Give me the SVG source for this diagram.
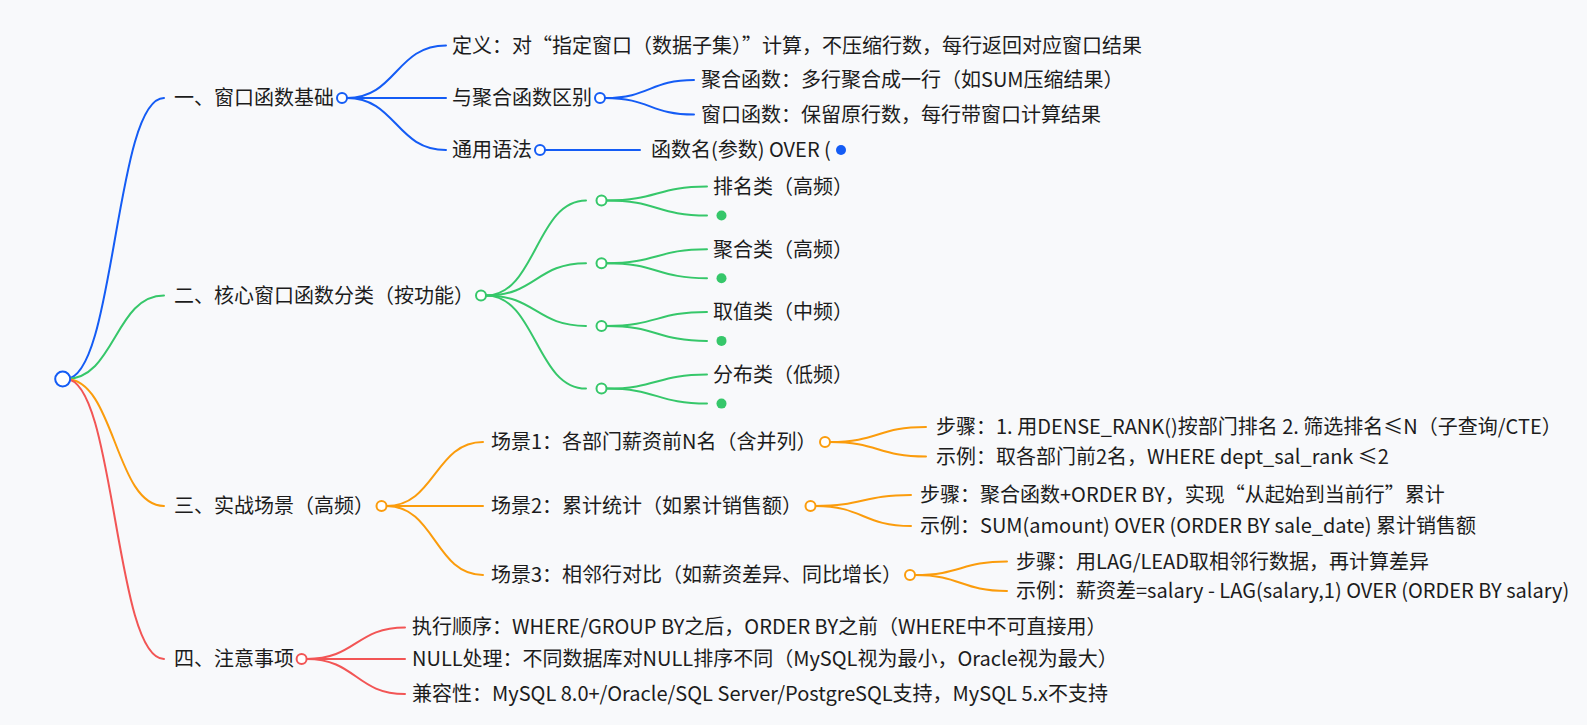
<svg xmlns="http://www.w3.org/2000/svg" width="1587" height="725" viewBox="0 0 1587 725">
<style>
text{font-family:"Noto Sans CJK SC","Noto Sans",sans-serif;font-size:20px;fill:#1c1c1c;}
.l{fill:none;stroke-width:2;stroke-linecap:round;}
.b{stroke:#145cf5;}
.g{stroke:#36c76a;}
.o{stroke:#fb9c0c;}
.r{stroke:#f25555;}
.c{fill:#fff;stroke-width:2;}
.cb{stroke:#145cf5;}
.cg{stroke:#36c76a;}
.co{stroke:#fb9c0c;}
.cr{stroke:#f25555;}
</style>
<rect width="1587" height="725" fill="#f8f9fb"/>
<g id="connectors">
<path class="l b" d="M66,379 C115,379 115,98 164,98"/>
<path class="l g" d="M66,379 C115,379 115,295.5 164,295.5"/>
<path class="l o" d="M66,379 C115,379 115,506 164,506"/>
<path class="l r" d="M66,379 C115,379 115,659 164,659"/>
<path class="l b" d="M347,98 C396,98 396,45.5 446,45.5"/>
<path class="l b" d="M347,98 L446,98"/>
<path class="l b" d="M347,98 C396,98 396,150 446,150"/>
<path class="l b" d="M605,98 C650,98 650,80 694,80"/>
<path class="l b" d="M605,98 C650,98 650,114.5 694,114.5"/>
<path class="l b" d="M545,150 L640,150"/>
<path class="l g" d="M486,295.5 C536,295.5 536,200.5 586,200.5"/>
<path class="l g" d="M486,295.5 C536,295.5 536,263.2 586,263.2"/>
<path class="l g" d="M486,295.5 C536,295.5 536,325.9 586,325.9"/>
<path class="l g" d="M486,295.5 C536,295.5 536,388.6 586,388.6"/>
<path class="l g" d="M606.5,200.5 C657,200.5 657,186.5 707,186.5"/>
<path class="l g" d="M606.5,200.5 C657,200.5 657,215.5 707,215.5"/>
<path class="l g" d="M606.5,263.2 C657,263.2 657,249.2 707,249.2"/>
<path class="l g" d="M606.5,263.2 C657,263.2 657,278.2 707,278.2"/>
<path class="l g" d="M606.5,325.9 C657,325.9 657,311.9 707,311.9"/>
<path class="l g" d="M606.5,325.9 C657,325.9 657,340.9 707,340.9"/>
<path class="l g" d="M606.5,388.6 C657,388.6 657,374.6 707,374.6"/>
<path class="l g" d="M606.5,388.6 C657,388.6 657,403.6 707,403.6"/>
<path class="l o" d="M386.5,506 C435,506 435,442 483,442"/>
<path class="l o" d="M386.5,506 L483,506"/>
<path class="l o" d="M386.5,506 C435,506 435,575 483,575"/>
<path class="l o" d="M830,442 C878,442 878,427 926,427"/>
<path class="l o" d="M830,442 C878,442 878,456.5 926,456.5"/>
<path class="l o" d="M815.5,506 C863,506 863,495 911,495"/>
<path class="l o" d="M815.5,506 C863,506 863,526 911,526"/>
<path class="l o" d="M915,575 C961,575 961,561.5 1007,561.5"/>
<path class="l o" d="M915,575 C961,575 961,591 1007,591"/>
<path class="l r" d="M306.6,659 C356,659 356,627.4 405,627.4"/>
<path class="l r" d="M306.6,659 L405,659"/>
<path class="l r" d="M306.6,659 C356,659 356,694 405,694"/>
</g>
<g id="root"><circle class="c cb" cx="62.7" cy="379" r="7.5"/></g>
<g id="n1"><text x="174" y="105">一、窗口函数基础</text><circle class="c cb" cx="342" cy="98" r="5"/></g>
<g id="n1-1"><text x="452" y="52.5">定义：对“指定窗口（数据子集）”计算，不压缩行数，每行返回对应窗口结果</text></g>
<g id="n1-2"><text x="452" y="105">与聚合函数区别</text><circle class="c cb" cx="600" cy="98" r="5"/></g>
<g id="n1-2-1"><text x="701" y="87">聚合函数：多行聚合成一行（如SUM压缩结果）</text></g>
<g id="n1-2-2"><text x="701" y="121.5">窗口函数：保留原行数，每行带窗口计算结果</text></g>
<g id="n1-3"><text x="452" y="157">通用语法</text><circle class="c cb" cx="540" cy="150" r="5"/></g>
<g id="n1-3-1"><text x="651" y="157">函数名(参数) OVER (</text><circle cx="841" cy="150" r="5" fill="#145cf5"/></g>
<g id="n2"><text x="174" y="302.5">二、核心窗口函数分类（按功能）</text><circle class="c cg" cx="481" cy="295.5" r="5"/></g>
<g id="n2-1"><circle class="c cg" cx="601.5" cy="200.5" r="5"/><text x="713" y="194">排名类（高频）</text><circle cx="721.5" cy="215.5" r="5" fill="#36c76a"/></g>
<g id="n2-2"><circle class="c cg" cx="601.5" cy="263.2" r="5"/><text x="713" y="256.7">聚合类（高频）</text><circle cx="721.5" cy="278.2" r="5" fill="#36c76a"/></g>
<g id="n2-3"><circle class="c cg" cx="601.5" cy="325.9" r="5"/><text x="713" y="319.4">取值类（中频）</text><circle cx="721.5" cy="340.9" r="5" fill="#36c76a"/></g>
<g id="n2-4"><circle class="c cg" cx="601.5" cy="388.6" r="5"/><text x="713" y="382.1">分布类（低频）</text><circle cx="721.5" cy="403.6" r="5" fill="#36c76a"/></g>
<g id="n3"><text x="174" y="513">三、实战场景（高频）</text><circle class="c co" cx="381.5" cy="506" r="5"/></g>
<g id="n3-1"><text x="491" y="449">场景1：各部门薪资前N名（含并列）</text><circle class="c co" cx="825" cy="442" r="5"/></g>
<g id="n3-1-1"><text x="936" y="434">步骤：1. 用DENSE_RANK()按部门排名 2. 筛选排名≤N（子查询/CTE）</text></g>
<g id="n3-1-2"><text x="936" y="463.5">示例：取各部门前2名，WHERE dept_sal_rank ≤2</text></g>
<g id="n3-2"><text x="491" y="513">场景2：累计统计（如累计销售额）</text><circle class="c co" cx="810.5" cy="506" r="5"/></g>
<g id="n3-2-1"><text x="920" y="502">步骤：聚合函数+ORDER BY，实现“从起始到当前行”累计</text></g>
<g id="n3-2-2"><text x="920" y="533">示例：SUM(amount) OVER (ORDER BY sale_date) 累计销售额</text></g>
<g id="n3-3"><text x="491" y="582">场景3：相邻行对比（如薪资差异、同比增长）</text><circle class="c co" cx="910" cy="575" r="5"/></g>
<g id="n3-3-1"><text x="1016" y="568.5">步骤：用LAG/LEAD取相邻行数据，再计算差异</text></g>
<g id="n3-3-2"><text x="1016" y="598">示例：薪资差=salary - LAG(salary,1) OVER (ORDER BY salary)</text></g>
<g id="n4"><text x="174" y="666">四、注意事项</text><circle class="c cr" cx="301.6" cy="659" r="5"/></g>
<g id="n4-1"><text x="412" y="634.4">执行顺序：WHERE/GROUP BY之后，ORDER BY之前（WHERE中不可直接用）</text></g>
<g id="n4-2"><text x="412" y="666">NULL处理：不同数据库对NULL排序不同（MySQL视为最小，Oracle视为最大）</text></g>
<g id="n4-3"><text x="412" y="701">兼容性：MySQL 8.0+/Oracle/SQL Server/PostgreSQL支持，MySQL 5.x不支持</text></g>
</svg>
